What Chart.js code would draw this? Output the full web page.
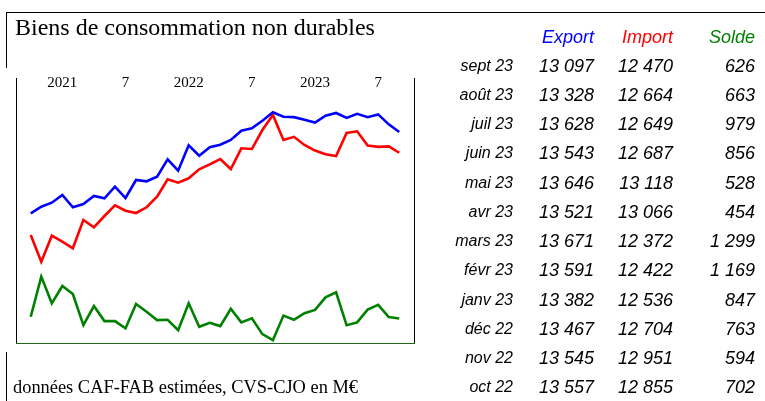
<!DOCTYPE html>
<html>
<head>
<meta charset="utf-8">
<script src="https://cdn.jsdelivr.net/npm/chart.js@4.4.0/dist/chart.umd.min.js"></script>
<style>
  body { margin: 0; background: #fff; overflow: hidden; }
  #page { position: relative; width: 765px; height: 401px; }
  #chart { position: absolute; left: 0; top: 0; }
  .serif { position: absolute; font-family: "Liberation Serif", "Times New Roman", serif; color: #000; white-space: nowrap; }
  .cell { position: absolute; font-family: "Liberation Sans", Arial, sans-serif; font-style: italic; color: #000; white-space: nowrap; text-align: right; height: 24px; line-height: 24px; }
</style>
</head>
<body>
<div id="page">
  <canvas id="chart" width="765" height="401"></canvas>
  <div class="serif" id="title" style="left:15px; top:14px; font-size:24px;">Biens de consommation non durables</div>
  <div class="serif" id="note" style="left:13px; top:377px; font-size:18.4px;">données CAF-FAB estimées, CVS-CJO en M€</div>
  <div id="table"></div>
</div>
<script>
// monthly values, oct 2020 -> sept 2023
const exportValues = [10641, 10841, 10961, 11194, 10823, 10922, 11164, 11094, 11445, 11103, 11647, 11608,
  11747, 12272, 11928, 12695, 12381, 12635, 12713, 12855, 13136, 13208, 13438, 13692,
  13557, 13545, 13467, 13382, 13591, 13671, 13521, 13646, 13543, 13628, 13328, 13097];
const importValues = [9986, 9180, 9965, 9784, 9584, 10439, 10219, 10560, 10883, 10720, 10650, 10823,
  11143, 11668, 11565, 11698, 11970, 12121, 12281, 11979, 12604, 12583, 13157, 13610,
  12855, 12951, 12704, 12536, 12422, 12372, 13066, 13118, 12687, 12649, 12664, 12470];
const soldeValues = [672, 1700, 1016, 1461, 1255, 459, 947, 561, 561, 374, 998, 800,
  587, 595, 330, 1016, 415, 518, 433, 878, 528, 631, 227, 73,
  702, 594, 763, 847, 1169, 1299, 454, 528, 856, 979, 663, 626];

// top axis ticks (index in the series above)
const tickIndex = [3, 9, 15, 21, 27, 33];
const tickLabels = ["2021", "7", "2022", "7", "2023", "7"];

// table, newest first
const tableMonths = ["sept 23", "août 23", "juil 23", "juin 23", "mai 23", "avr 23",
  "mars 23", "févr 23", "janv 23", "déc 22", "nov 22", "oct 22"];
const tableHeaders = ["Export", "Import", "Solde"];

const blue = "#0000ff";
const red = "#ff0000";
const green = "#008000";

function fmt(v) {
  return String(v).replace(/\B(?=(\d{3})+(?!\d))/g, " ");
}

function toPoints(values) {
  return values.map((v, i) => ({ x: i, y: v }));
}

// table on the right
const table = document.getElementById("table");
const colRight = [765 - 594, 765 - 673, 765 - 755];
const headerColors = [blue, red, green];

function addCell(text, right, centerY, size, color) {
  const el = document.createElement("div");
  el.className = "cell";
  el.textContent = text;
  el.style.right = right + "px";
  el.style.top = (centerY - 12) + "px";
  el.style.fontSize = size + "px";
  if (color) el.style.color = color;
  table.appendChild(el);
}

tableHeaders.forEach((h, i) => addCell(h, colRight[i], 37, 18, headerColors[i]));

const n = exportValues.length;
tableMonths.forEach((m, r) => {
  const y = 65.7 + r * 29.24;
  const idx = n - 1 - r;
  addCell(m, 765 - 513, y, 16);
  addCell(fmt(exportValues[idx]), colRight[0], y, 18);
  addCell(fmt(importValues[idx]), colRight[1], y, 18);
  addCell(fmt(soldeValues[idx]), colRight[2], y, 18);
});

// frame lines round the chart and the texts
const framePlugin = {
  id: "frame",
  afterDraw(chart) {
    const ctx = chart.ctx;
    ctx.save();
    ctx.fillStyle = "#000";
    ctx.fillRect(6, 12, 759, 1);
    ctx.fillRect(6, 12, 1, 56);
    ctx.fillRect(16, 78, 1, 266);
    ctx.fillRect(414, 78, 1, 266);
    ctx.fillRect(6, 352, 1, 49);
    ctx.fillStyle = "#1a6b1a";
    ctx.fillRect(16, 343, 399, 1);
    ctx.restore();
  }
};

new Chart(document.getElementById("chart"), {
  type: "line",
  data: {
    datasets: [
      { label: "Export", data: toPoints(exportValues), borderColor: blue, yAxisID: "y" },
      { label: "Import", data: toPoints(importValues), borderColor: red, yAxisID: "y" },
      { label: "Solde", data: toPoints(soldeValues), borderColor: green, yAxisID: "y2" }
    ]
  },
  options: {
    responsive: false,
    animation: false,
    layout: { padding: { left: 16, right: 351, top: 76, bottom: 58 } },
    elements: {
      line: { borderWidth: 2.6, tension: 0, fill: false },
      point: { radius: 0 }
    },
    plugins: {
      legend: { display: false },
      tooltip: { enabled: false }
    },
    scales: {
      x: {
        type: "linear",
        position: "top",
        min: -1.4,
        max: 36.4,
        grid: { display: false, drawTicks: false },
        border: { display: false },
        afterFit(scale) { scale.height = 16; },
        afterBuildTicks(scale) { scale.ticks = tickIndex.map(v => ({ value: v })); },
        ticks: {
          autoSkip: false,
          maxRotation: 0,
          padding: 0,
          color: "#000",
          font: { family: "'Liberation Serif', 'Times New Roman', serif", size: 15 },
          callback: (value) => tickLabels[tickIndex.indexOf(value)]
        }
      },
      y: { display: false, min: 6724, max: 14305 },
      y2: { display: false, min: 0, max: 6430 }
    }
  },
  plugins: [framePlugin]
});
</script>
</body>
</html>
